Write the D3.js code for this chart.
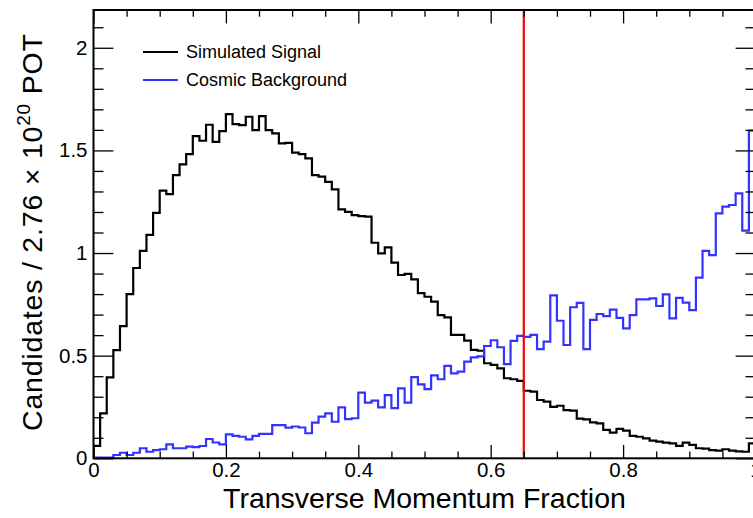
<!DOCTYPE html>
<html>
<head>
<meta charset="utf-8">
<script src="https://cdn.jsdelivr.net/npm/d3@7"></script>
<style>
  html, body { margin: 0; padding: 0; background: #fff; }
  svg { display: block; font-family: "Liberation Sans", Arial, Helvetica, sans-serif; }
</style>
</head>
<body>
<svg id="chart" width="753" height="518"></svg>
<script>
// ---- data ----
const binLow = 0, binHigh = 1, nBins = 100;
const signal = [
  0.061,0.219,0.394,0.527,0.644,0.800,0.927,1.011,1.088,1.196,
  1.304,1.287,1.380,1.432,1.482,1.570,1.547,1.625,1.542,1.594,
  1.677,1.628,1.623,1.664,1.599,1.667,1.599,1.583,1.534,1.537,
  1.489,1.482,1.461,1.380,1.372,1.347,1.310,1.213,1.201,1.185,
  1.180,1.177,1.050,0.998,1.028,0.953,0.893,0.898,0.872,0.805,
  0.787,0.763,0.698,0.687,0.601,0.601,0.573,0.528,0.524,0.463,
  0.455,0.438,0.390,0.385,0.377,0.329,0.325,0.284,0.276,0.251,
  0.256,0.235,0.232,0.193,0.190,0.175,0.170,0.138,0.125,0.143,
  0.135,0.109,0.105,0.097,0.086,0.081,0.076,0.073,0.061,0.076,
  0.065,0.049,0.047,0.040,0.037,0.044,0.037,0.034,0.032,0.073
];
const cosmic = [
  0.003,0.003,0.003,0.016,0.027,0.016,0.027,0.049,0.032,0.040,
  0.044,0.068,0.049,0.049,0.057,0.054,0.060,0.094,0.077,0.068,
  0.117,0.109,0.105,0.092,0.109,0.119,0.119,0.162,0.162,0.149,
  0.155,0.150,0.122,0.174,0.203,0.219,0.178,0.248,0.191,0.195,
  0.320,0.271,0.281,0.248,0.308,0.244,0.341,0.271,0.395,0.360,
  0.337,0.404,0.385,0.450,0.414,0.422,0.471,0.492,0.497,0.547,
  0.575,0.541,0.459,0.572,0.596,0.592,0.601,0.532,0.568,0.794,
  0.670,0.552,0.736,0.757,0.532,0.674,0.703,0.693,0.724,0.684,
  0.633,0.698,0.774,0.774,0.779,0.742,0.799,0.682,0.782,0.758,
  0.722,0.880,1.011,0.990,1.193,1.226,1.234,1.291,1.109,1.596
];
const cutValue = 0.65;
const xMajorTicks = [0, 0.2, 0.4, 0.6, 0.8, 1];
const xTickLabels = ["0", "0.2", "0.4", "0.6", "0.8", "1"];
const yMajorTicks = [0, 0.5, 1, 1.5, 2];
const yTickLabels = ["0", "0.5", "1", "1.5", "2"];
const legendLabels = ["Simulated Signal", "Cosmic Background"];
const xTitle = "Transverse Momentum Fraction";

// ---- layout ----
const pL = 93.5, pR = 755.5, pT = 10, pB = 458.3;
const yMax = 2.184;
const svg = d3.select("#chart");
const x = d3.scaleLinear().domain([binLow, binHigh]).range([pL, pR]);
const y = d3.scaleLinear().domain([0, yMax]).range([pB, pT]);
const binW = (binHigh - binLow) / nBins;

svg.append("defs").append("clipPath").attr("id", "plotclip")
  .append("rect").attr("x", pL).attr("y", pT).attr("width", pR - pL).attr("height", pB - pT);

// histograms
function histPoints(vals) {
  const pts = [[binLow, 0]];
  vals.forEach((v, i) => pts.push([binLow + i * binW, v]));
  pts.push([binHigh, vals[vals.length - 1]]);
  return pts;
}
const line = d3.line().x(d => x(d[0])).y(d => y(d[1])).curve(d3.curveStepAfter);
const gPlot = svg.append("g").attr("clip-path", "url(#plotclip)");
gPlot.append("path").attr("d", line(histPoints(signal)))
  .attr("fill", "none").attr("stroke", "#000").attr("stroke-width", 2.2);
gPlot.append("path").attr("d", line(histPoints(cosmic)))
  .attr("fill", "none").attr("stroke", "#3333ff").attr("stroke-width", 2.2);

// cut line
svg.append("line").attr("x1", x(cutValue)).attr("x2", x(cutValue))
  .attr("y1", y(yMax)).attr("y2", y(0)).attr("stroke", "#ff0000").attr("stroke-width", 2.2);

// axes
const xMinor = d3.range(0, 1.0001, 0.05).filter(v => !xMajorTicks.some(m => Math.abs(m - v) < 1e-6));
const yMinor = d3.range(0, yMax, 0.1).filter(v => !yMajorTicks.some(m => Math.abs(m - v) < 1e-6));

function styleAxis(g) {
  g.select(".domain").remove();
  g.selectAll(".tick line").attr("stroke", "#000").attr("stroke-width", 1.3);
  g.selectAll("text").attr("fill", "#000").attr("font-size", 20.5);
}

// bottom
svg.append("g").attr("transform", `translate(0,${pB})`)
  .call(d3.axisBottom(x).tickValues(xMajorTicks).tickSize(-13.4).tickPadding(4)
    .tickFormat((d, i) => xTickLabels[i]))
  .call(styleAxis);
svg.append("g").attr("transform", `translate(0,${pB})`)
  .call(d3.axisBottom(x).tickValues(xMinor).tickSize(-6.7).tickFormat(""))
  .call(styleAxis);
// top
svg.append("g").attr("transform", `translate(0,${pT})`)
  .call(d3.axisTop(x).tickValues(xMajorTicks).tickSize(-13.4).tickFormat(""))
  .call(styleAxis);
svg.append("g").attr("transform", `translate(0,${pT})`)
  .call(d3.axisTop(x).tickValues(xMinor).tickSize(-6.7).tickFormat(""))
  .call(styleAxis);
// left
svg.append("g").attr("transform", `translate(${pL},0)`)
  .call(d3.axisLeft(y).tickValues(yMajorTicks).tickSize(-19.9).tickPadding(6)
    .tickFormat((d, i) => yTickLabels[i]))
  .call(styleAxis);
svg.append("g").attr("transform", `translate(${pL},0)`)
  .call(d3.axisLeft(y).tickValues(yMinor).tickSize(-10).tickFormat(""))
  .call(styleAxis);
// right
svg.append("g").attr("transform", `translate(${pR},0)`)
  .call(d3.axisRight(y).tickValues(yMajorTicks).tickSize(-19.9).tickFormat(""))
  .call(styleAxis);
svg.append("g").attr("transform", `translate(${pR},0)`)
  .call(d3.axisRight(y).tickValues(yMinor).tickSize(-10).tickFormat(""))
  .call(styleAxis);

// frame
svg.append("rect").attr("x", pL).attr("y", pT).attr("width", pR - pL).attr("height", pB - pT)
  .attr("fill", "none").attr("stroke", "#000").attr("stroke-width", 2);

// titles
svg.append("text").attr("x", (pL + pR) / 2).attr("y", 508)
  .attr("text-anchor", "middle").attr("font-size", 28.5).text(xTitle);

const yt = svg.append("text").attr("transform", `translate(42,${(pT + pB) / 2 - 2}) rotate(-90)`)
  .attr("text-anchor", "middle").attr("font-size", 28.5).attr("letter-spacing", 0.8);
yt.append("tspan").text("Candidates / 2.76 \u00d7 10");
yt.append("tspan").attr("font-size", 19).attr("dy", -12).text("20");
yt.append("tspan").attr("dy", 12).text(" POT");

// legend
const legColors = ["#000", "#3333ff"];
const legY = [52, 80];
legendLabels.forEach((lab, i) => {
  svg.append("line").attr("x1", 143).attr("x2", 178).attr("y1", legY[i]).attr("y2", legY[i])
    .attr("stroke", legColors[i]).attr("stroke-width", 2);
  svg.append("text").attr("x", 186).attr("y", legY[i] + 6).attr("font-size", 18).text(lab);
});
</script>
</body>
</html>
